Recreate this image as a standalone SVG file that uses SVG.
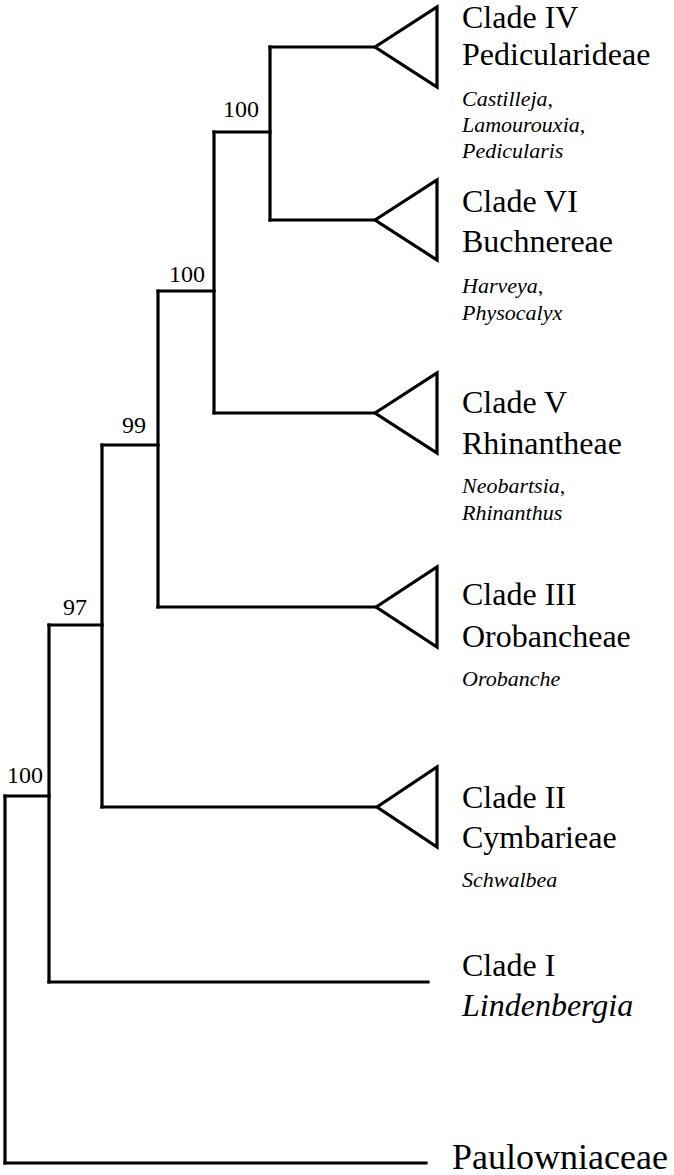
<svg xmlns="http://www.w3.org/2000/svg" width="674" height="1175" viewBox="0 0 674 1175">
<style>
  .br { fill: none; stroke: #000; stroke-width: 3.2; stroke-linejoin: miter; stroke-linecap: square; }
  .tri { fill: #fff; stroke: #000; stroke-width: 3.2; stroke-linejoin: miter; }
  .name { font-family: "Liberation Serif", "Times New Roman", serif; font-size: 32px; fill: #000; }
  .big { font-family: "Liberation Serif", "Times New Roman", serif; font-size: 36px; fill: #000; }
  .it { font-family: "Liberation Serif", "Times New Roman", serif; font-size: 22px; font-style: italic; fill: #000; }
  .itbig { font-family: "Liberation Serif", "Times New Roman", serif; font-size: 32px; font-style: italic; fill: #000; }
  .sup { font-family: "Liberation Serif", "Times New Roman", serif; font-size: 24px; fill: #000; }
</style>
<rect width="674" height="1175" fill="#fff"/>
<g id="connectors">
  <path class="br" d="M270,47 H375"/>
  <path class="br" d="M270,220 H375"/>
  <path class="br" d="M270,47 V220"/>
  <path class="br" d="M214,132 H270"/>
  <path class="br" d="M214,413 H375"/>
  <path class="br" d="M214,132 V413"/>
  <path class="br" d="M158,291 H214"/>
  <path class="br" d="M158,607 H376"/>
  <path class="br" d="M158,291 V607"/>
  <path class="br" d="M102,445 H158"/>
  <path class="br" d="M102,807 H377"/>
  <path class="br" d="M102,445 V807"/>
  <path class="br" d="M49,625 H102"/>
  <path class="br" d="M49,982 H428"/>
  <path class="br" d="M49,625 V982"/>
  <path class="br" d="M5,796 H49"/>
  <path class="br" d="M5,1163 H426"/>
  <path class="br" d="M5,796 V1163"/>
</g>
<g id="support-values">
  <text class="sup" x="223" y="117">100</text>
  <text class="sup" x="169" y="282">100</text>
  <text class="sup" x="122" y="433">99</text>
  <text class="sup" x="63" y="615">97</text>
  <text class="sup" x="7" y="783">100</text>
</g>
<g id="clade-IV">
  <polygon class="tri" points="375,47 437,7 437,87"/>
  <text class="name" x="462" y="28">Clade IV</text>
  <text class="name" x="462" y="65">Pedicularideae</text>
  <text class="it" x="462" y="106">Castilleja<tspan font-style="normal">,</tspan></text>
  <text class="it" x="462" y="132">Lamourouxia,</text>
  <text class="it" x="462" y="158">Pedicularis</text>
</g>
<g id="clade-VI">
  <polygon class="tri" points="375,220 437,180 437,260"/>
  <text class="name" x="462" y="212">Clade VI</text>
  <text class="name" x="462" y="252">Buchnereae</text>
  <text class="it" x="462" y="293">Harveya<tspan font-style="normal">,</tspan></text>
  <text class="it" x="462" y="320">Physocalyx</text>
</g>
<g id="clade-V">
  <polygon class="tri" points="375,413 437,373 437,453"/>
  <text class="name" x="462" y="413">Clade V</text>
  <text class="name" x="462" y="454">Rhinantheae</text>
  <text class="it" x="462" y="493">Neobartsia<tspan font-style="normal">,</tspan></text>
  <text class="it" x="462" y="520">Rhinanthus</text>
</g>
<g id="clade-III">
  <polygon class="tri" points="376,607 437,567 437,647"/>
  <text class="name" x="462" y="605">Clade III</text>
  <text class="name" x="462" y="647">Orobancheae</text>
  <text class="it" x="462" y="686">Orobanche</text>
</g>
<g id="clade-II">
  <polygon class="tri" points="377,807 437,767 437,847"/>
  <text class="name" x="462" y="808">Clade II</text>
  <text class="name" x="462" y="848">Cymbarieae</text>
  <text class="it" x="462" y="887">Schwalbea</text>
</g>
<g id="clade-I">
  <text class="name" x="462" y="976">Clade I</text>
  <text class="itbig" x="462" y="1016">Lindenbergia</text>
</g>
<g id="outgroup">
  <text class="big" x="452" y="1169">Paulowniaceae</text>
</g>
</svg>
